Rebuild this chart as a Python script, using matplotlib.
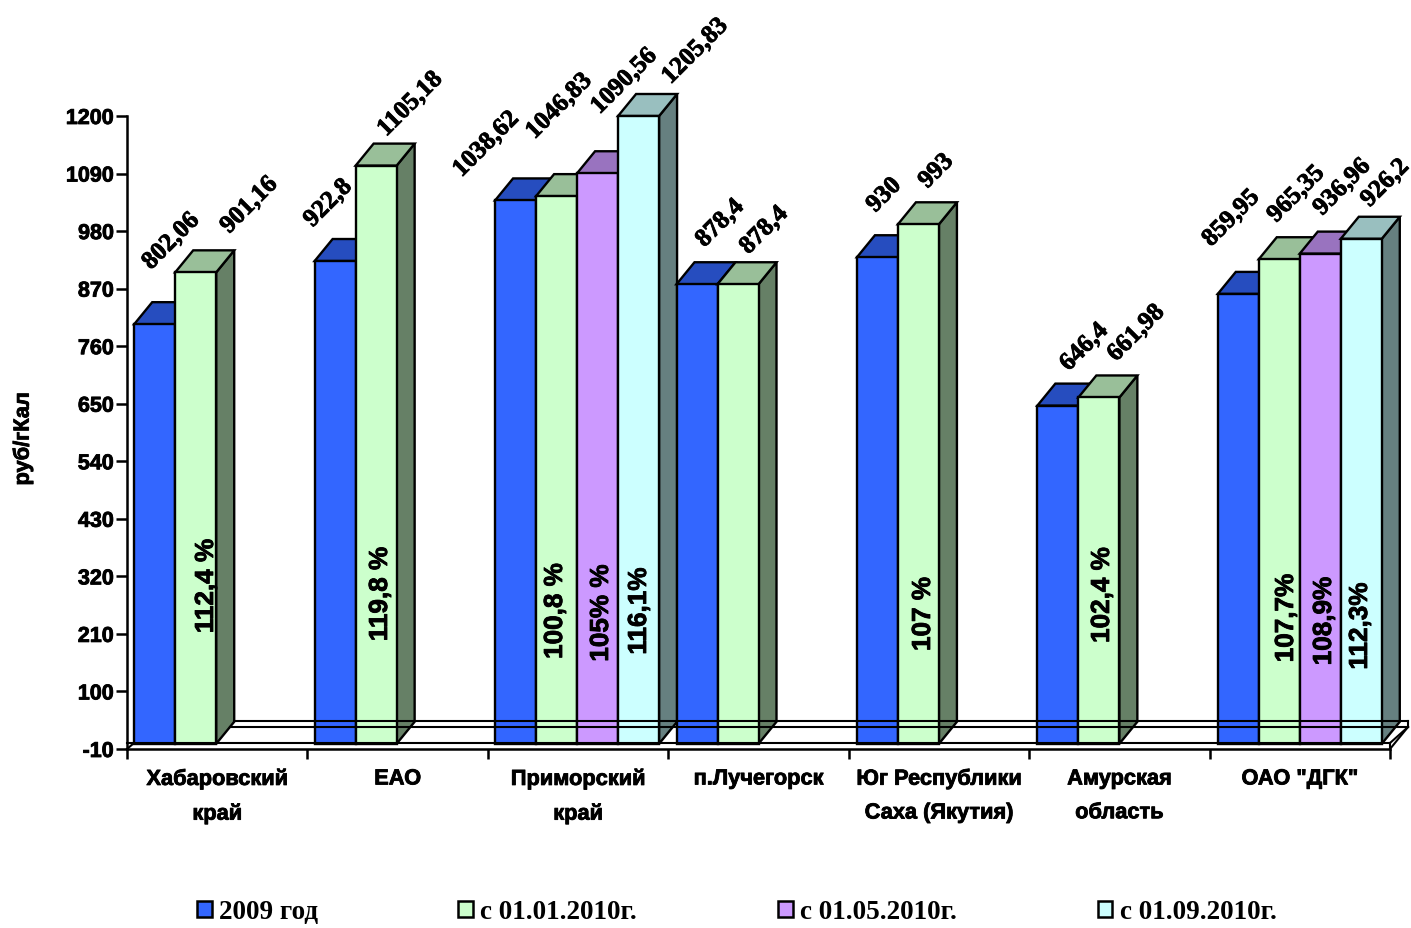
import numpy as np
import matplotlib
matplotlib.use("Agg")
import matplotlib.pyplot as plt
import matplotlib.patheffects as pe
from matplotlib.patches import Polygon, Patch
from matplotlib.transforms import Affine2D

W, H = 1411, 929
nan = float("nan")

categories = ["Хабаровский\nкрай", "ЕАО", "Приморский\nкрай", "п.Лучегорск",
              "Юг Республики\nСаха (Якутия)", "Амурская\nобласть", 'ОАО "ДГК"']
series_names = ["2009 год", "с 01.01.2010г.", "с 01.05.2010г.", "с 01.09.2010г."]
s2009 = [802.06, 922.8, 1038.62, 878.4, 930, 646.4, 859.95]
s0101 = [901.16, 1105.18, 1046.83, 878.4, 993, 661.98, 926.2]
s0105 = [nan, nan, 1090.56, nan, nan, nan, 936.96]
s0109 = [nan, nan, 1205.83, nan, nan, nan, 965.35]
y_ticks = [-10, 100, 210, 320, 430, 540, 650, 760, 870, 980, 1090, 1200]

value_labels = ["802,06", "901,16", "922,8", "1105,18", "1038,62", "1046,83", "1090,56",
                "1205,83", "878,4", "878,4", "930", "993", "646,4", "661,98",
                "859,95", "965,35", "936,96", "926,2"]
value_label_xy = [(171, 242), (249, 206), (328, 204), (410, 105), (486, 145), (559, 107),
                  (624, 82), (695, 52), (720, 224), (764, 231), (884, 196), (936, 172),
                  (1084, 348), (1136, 334), (1231, 219), (1296, 195), (1342, 188), (1385, 184)]
pct_labels = ["112,4 %", "119,8 %", "100,8 %", "105% %", "116,1%", "107 %", "102,4 %",
              "107,7%", "108,9%", "112,3%"]
pct_label_xy = [(206, 587), (380, 595), (555, 612), (601, 614), (639, 612), (923, 615),
                (1102, 596), (1286, 619), (1324, 622), (1360, 627)]

colors = ["#3366FF", "#CCFFCC", "#CC99FF", "#CCFFFF"]
SANS = ["Liberation Sans", "DejaVu Sans"]
SERIF = ["Liberation Serif", "DejaVu Serif"]
BOLDER = [pe.withStroke(linewidth=0.6, foreground="black")]

fig = plt.figure(figsize=(W / 100, H / 100), dpi=100, facecolor="white")
L, R, T, B = 127, 1390, 117, 750
ax = fig.add_axes([L / W, 1 - B / H, (R - L) / W, (B - T) / H])
ax.set_xlim(-0.5, 6.5)
ax.set_ylim(-10, 1200)
ax.patch.set_alpha(0)
for s in ("top", "right"):
    ax.spines[s].set_visible(False)
for s in ("left", "bottom"):
    ax.spines[s].set_linewidth(1.8)

px_x = (R - L) / 7
px_y = (B - T) / 1210
dx = 18 / px_x
dy = 22 / px_y
bw = 41 / px_x
shift = -1 / px_x


def shade(c, f):
    r = matplotlib.colors.to_rgb(c)
    return tuple(v * f for v in r)


all_series = [s2009, s0101, s0105, s0109]
for i in range(len(categories)):
    for k, ser in enumerate(all_series):
        v = ser[i]
        if np.isnan(v):
            continue
        v = min(v, 1200)
        x0 = i + (k - 2) * bw + shift * (1 if i < 3 else 0)
        x1 = x0 + bw
        c = colors[k]
        kw = dict(edgecolor="black", linewidth=1.7, joinstyle="miter", clip_on=False, zorder=3 + i + 0.1 * k)
        ax.add_patch(Polygon([(x1, 0), (x1 + dx, dy), (x1 + dx, v + dy), (x1, v)], facecolor=shade(c, 0.5), **kw))
        ax.add_patch(Polygon([(x0, v), (x1, v), (x1 + dx, v + dy), (x0 + dx, v + dy)], facecolor=shade(c, 0.75), **kw))
        ax.add_patch(Polygon([(x0, 0), (x1, 0), (x1, v), (x0, v)], facecolor=c, **kw))

# pixel-space transform for floor and hand-placed labels
PX = Affine2D().scale(1, -1).translate(0, H)
floor = [((230, 728), (1408, 728)), ((234, 722), (1408, 722)), ((1408, 722), (1408, 728)),
         ((127, 744), (1390, 744)), ((1390, 744), (1390, 750)), ((1390, 750), (1408, 728)),
         ((1390, 744), (1408, 728)), ((127, 750), (134, 744))]
for a, b in floor:
    fig.add_artist(plt.Line2D([a[0], b[0]], [a[1], b[1]], color="black", lw=1.5, transform=PX, zorder=1))

ax.set_yticks(y_ticks)
ax.set_yticklabels([str(t) for t in y_ticks], fontfamily=SANS, fontweight="bold", fontsize=15.5,
                   path_effects=BOLDER)
ax.tick_params(axis="y", length=8, width=1.8, pad=1.5)
ax.set_xticks(range(7))
ax.set_xticklabels(categories, fontfamily=SANS, fontweight="bold", fontsize=15.7, linespacing=1.8,
                   path_effects=BOLDER)
ax.set_xticks(np.arange(-0.5, 7), minor=True)
ax.tick_params(axis="x", which="major", length=0, pad=14)
ax.tick_params(axis="x", which="minor", length=7.5, width=1.8)

fig.text(23 / W, 1 - 440 / H, "руб/гКал", rotation=90, ha="center", va="center",
         fontfamily=SANS, fontweight="bold", fontsize=15.7, path_effects=BOLDER)

for t, (x, y) in zip(value_labels, value_label_xy):
    fig.text(x, y, t, transform=PX, rotation=45, ha="center", va="center", fontfamily=SERIF,
             fontweight="bold", fontsize=18.2, rotation_mode="anchor", zorder=20, path_effects=BOLDER)
for t, (x, y) in zip(pct_labels, pct_label_xy):
    fig.text(x, y, t, transform=PX, rotation=90, ha="center", va="center", fontfamily=SANS,
             fontweight="bold", fontsize=18.8, zorder=20, path_effects=BOLDER)

handles = [Patch(facecolor=c, edgecolor="black", linewidth=1.8) for c in colors]
leg = fig.legend(handles, series_names, loc="center", bbox_to_anchor=(736.5 / W, 1 - 913 / H), ncol=4,
                 frameon=False, columnspacing=5.2, handlelength=0.55, handleheight=0.5, handletextpad=0.26,
                 prop=dict(family=SERIF, weight="bold", size=19.5), borderpad=0, borderaxespad=0)

fig.savefig("out.png", dpi=100)
